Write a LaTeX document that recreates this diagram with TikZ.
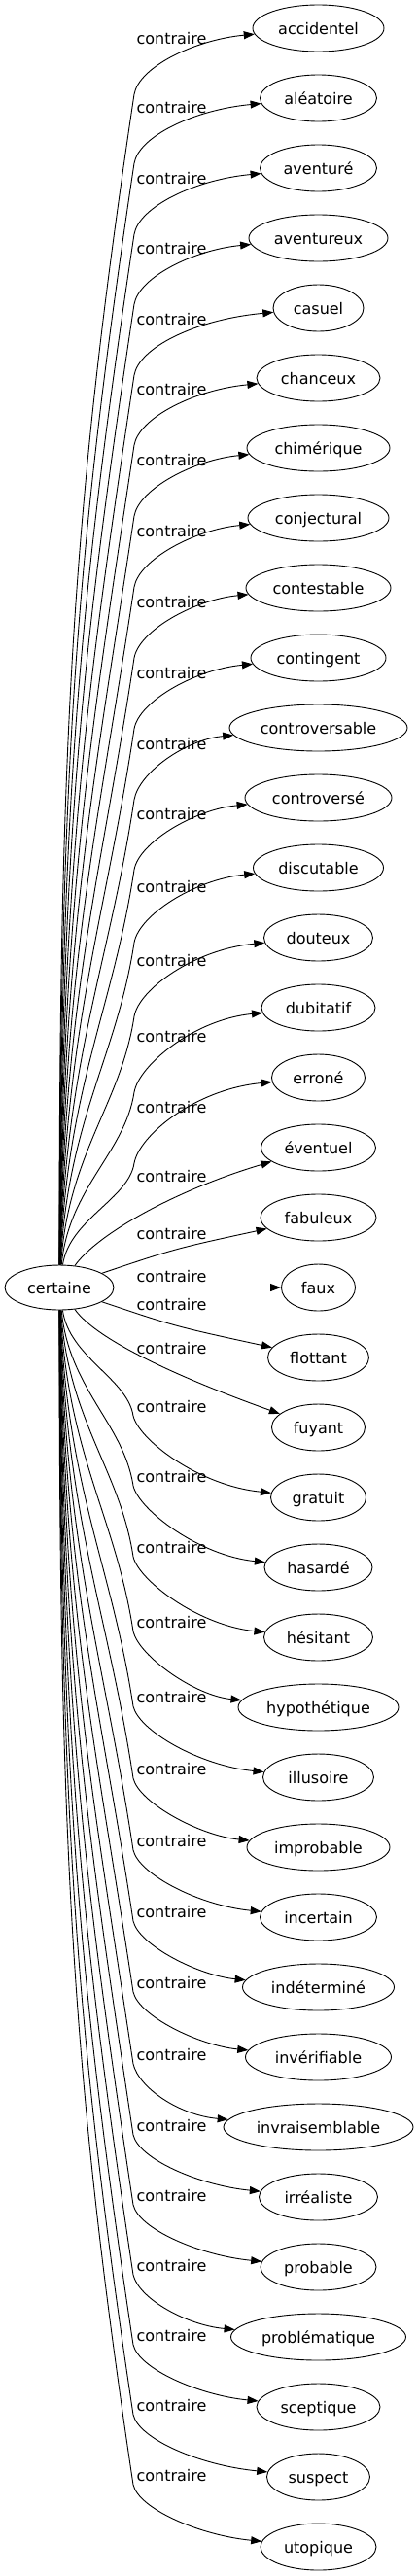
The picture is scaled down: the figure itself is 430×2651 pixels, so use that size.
\documentclass[tikz,border=0pt]{standalone}
\usepackage{fontspec}
\setmainfont{DejaVu Sans}
\usetikzlibrary{arrows.meta,shapes.geometric}
\begin{document}
\begin{tikzpicture}[x=1pt,y=-1pt,
  every node/.style={font=\fontsize{16}{19}\selectfont},
  tnode/.style={draw,ellipse,line width=0.9pt,inner sep=0pt,minimum height=48pt,text height=12pt,text depth=0pt},
  lab/.style={inner sep=0pt,text height=12pt,text depth=0pt},
  edge/.style={line width=0.9pt,-{Triangle[length=11pt,width=8pt]}}]
\useasboundingbox (0,0) rectangle (430,2651);
\node[tnode,minimum width=112pt,minimum height=46pt] (c) at (61,1325) {certaine};
\foreach \i/\t/\w/\L in {0/accidentel/135/39, 1/aléatoire/120/110, 2/aventuré/120/183, 3/aventureux/143/255, 4/casuel/93/328, 5/chanceux/127/400, 6/chimérique/147/473, 7/conjectural/145/546, 8/contestable/149/619, 9/contingent/139/692, 10/controversable/183/765, 11/controversé/151/837, 12/discutable/134/912, 13/douteux/112/988, 14/dubitatif/117/1066, 15/erroné/96/1139, 16/éventuel/118/1210, 17/fabuleux/119/1269, 18/faux/76/1313, 19/flottant/104/1342, 20/fuyant/96/1387, 21/gratuit/98/1447, 22/hasardé/111/1519, 23/hésitant/112/1592, 24/hypothétique/165/1669, 25/illusoire/114/1746, 26/improbable/147/1820, 27/incertain/120/1894, 28/indéterminé/156/1967, 29/invérifiable/150/2040, 30/invraisemblable/195/2114, 31/irréaliste/122/2187, 32/probable/119/2259, 33/problématique/180/2331, 34/sceptique/127/2403, 35/suspect/106/2475, 36/utopique/119/2547}{
  \pgfmathsetmacro\yy{29+72*\i}
  \node[tnode,minimum width=\w pt] (n\i) at (327.5,\yy) {\t};
  \node[lab] (l\i) at (176.5,\L) {contraire};
}
\foreach \i/\w/\L in {0/135/39, 1/120/110, 2/120/183, 3/143/255, 4/93/328, 5/127/400, 6/147/473, 7/145/546, 8/149/619, 9/139/692, 10/183/765, 11/151/837, 12/134/912, 13/112/988, 14/117/1066, 15/96/1139}{
  \pgfmathsetmacro\yy{29+72*\i}
  \pgfmathsetmacro\xw{327.5-\w/2}
  \pgfmathsetmacro\cfx{min(200,\xw-45)}
  \pgfmathsetmacro\ky{\L+58}
  \pgfmathsetmacro\dd{1302-\ky}
  \pgfmathsetmacro\hh{0.35*\dd}
  \pgfmathsetmacro\ax{61+0.7*\i}
  \pgfmathsetmacro\ay{1302-0.45*\dd}
  \pgfmathsetmacro\bx{138-0.15*\hh}
  \pgfmathsetmacro\by{\ky+\hh}
  \pgfmathsetmacro\cy{\ky-28}
  \pgfmathsetmacro\fy{\yy+12}
  \coordinate (k\i) at (138,\ky);
  \draw[edge] (c) .. controls (\ax,\ay) and (\bx,\by) .. (k\i) .. controls (143,\cy) and (\cfx,\fy) .. (n\i);
}
\foreach \i/\w/\L in {21/98/1447, 22/111/1519, 23/112/1592, 24/165/1669, 25/114/1746, 26/147/1820, 27/120/1894, 28/156/1967, 29/150/2040, 30/195/2114, 31/122/2187, 32/119/2259, 33/180/2331, 34/127/2403, 35/106/2475, 36/119/2547}{
  \pgfmathsetmacro\yy{29+72*\i}
  \pgfmathsetmacro\xw{327.5-\w/2}
  \pgfmathsetmacro\cfx{min(205,\xw-45)}
  \pgfmathsetmacro\ky{\L+10}
  \pgfmathsetmacro\dd{\ky-1348}
  \pgfmathsetmacro\hh{0.35*\dd}
  \pgfmathsetmacro\ax{61+0.7*(36-\i)}
  \pgfmathsetmacro\ay{1348+0.45*\dd}
  \pgfmathsetmacro\bx{137-0.15*\hh}
  \pgfmathsetmacro\by{\ky-\hh}
  \pgfmathsetmacro\cy{\ky+25}
  \pgfmathsetmacro\fy{\yy-12}
  \coordinate (k\i) at (137,\ky);
  \draw[edge] (c) .. controls (\ax,\ay) and (\bx,\by) .. (k\i) .. controls (143,\cy) and (\cfx,\fy) .. (n\i);
}
\draw[edge] (c) .. controls (100,1270) and (180,1225) .. (n16);
\draw[edge] (c) .. controls (180,1285) .. (n17);
\draw[edge] (c) -- (n18);
\draw[edge] (c) .. controls (180,1365) .. (n19);
\draw[edge] (c) .. controls (100,1380) and (190,1420) .. (n20);
\end{tikzpicture}
\end{document}
